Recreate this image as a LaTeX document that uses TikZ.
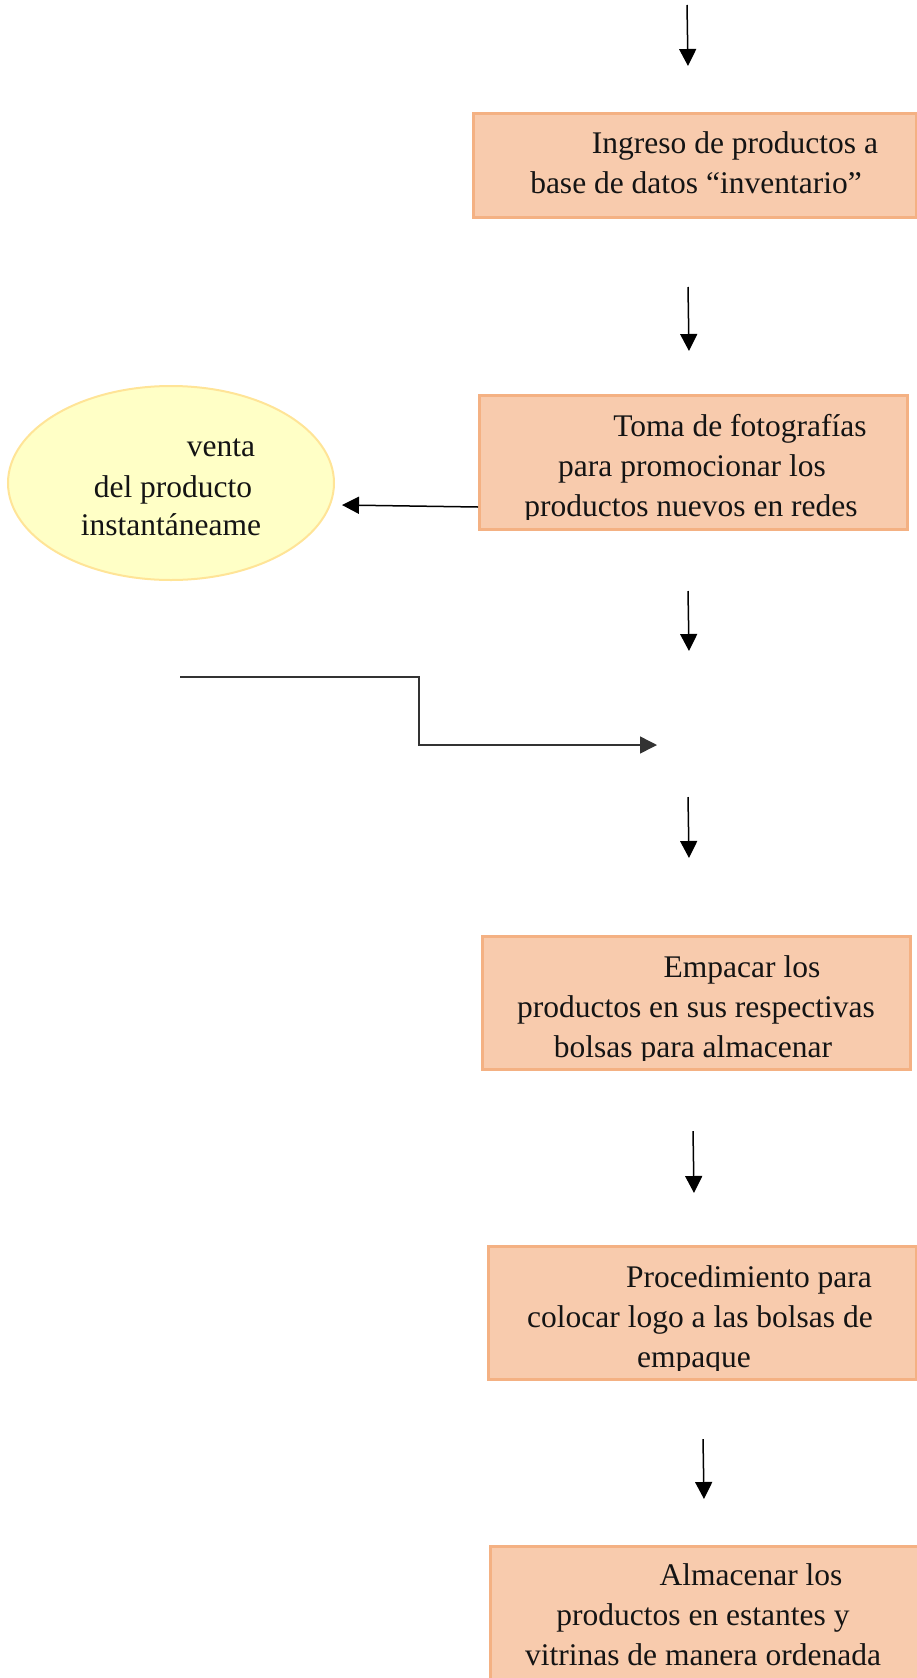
\documentclass[tikz,border=0pt]{standalone}
\usepackage{fontspec}
\setmainfont{Liberation Serif}
\usetikzlibrary{arrows.meta,shapes.geometric}
\definecolor{boxfill}{HTML}{F8CBAD}
\definecolor{boxline}{HTML}{F4B183}
\definecolor{ellfill}{HTML}{FFFFC6}
\definecolor{ellline}{HTML}{FFE497}
\definecolor{txtcol}{HTML}{141414}
\begin{document}
\begin{tikzpicture}[x=1pt,y=-1pt,
  stepbox/.style={draw=boxline,fill=boxfill,line width=2.6pt,rectangle,inner sep=0pt,anchor=north west},
  ellbox/.style={draw=ellline,fill=ellfill,line width=2pt,ellipse,inner sep=0pt},
  txt/.style={anchor=base,inner sep=0pt,text=txtcol,font=\fontsize{31.5}{40}\selectfont},
  arr/.style={line width=1.5pt,-{Triangle[width=17pt,length=17pt]}},
  conn/.style={line width=1.5pt,draw=black!80}]
\useasboundingbox (0,0) rectangle (917,1678);

% boxes
\node[stepbox,minimum width=443pt,minimum height=104pt] (b1) at (472,112) {};
\node[stepbox,minimum width=428pt,minimum height=134pt] (b2) at (478,394) {};
\node[stepbox,minimum width=428pt,minimum height=133pt] (b3) at (481,935) {};
\node[stepbox,minimum width=428pt,minimum height=133pt] (b4) at (487,1245) {};
\node[stepbox,minimum width=428pt,minimum height=140pt] (b5) at (489,1545) {};
\node[ellbox,minimum width=326pt,minimum height=194pt] (e1) at (171,483) {};

% texts
\node[txt] (b1l1) at (735,153) {Ingreso de productos a};
\node[txt] (b1l2) at (696,193) {base de datos “inventario”};

\begin{scope}
\clip (b2.north west) rectangle ([yshift=11pt]b2.south east);
\node[txt] (b2l1) at (740,436) {Toma de fotografías};
\node[txt] (b2l2) at (692,476) {para promocionar los};
\node[txt] (b2l3) at (691,516) {productos nuevos en redes};
\end{scope}

\begin{scope}
\clip (b3.north west) rectangle ([yshift=10pt]b3.south east);
\node[txt] (b3l1) at (742,977) {Empacar los};
\node[txt] (b3l2) at (696,1017) {productos en sus respectivas};
\node[txt] (b3l3) at (693,1057) {bolsas para almacenar};
\end{scope}

\begin{scope}
\clip (b4.north west) rectangle ([yshift=10pt]b4.south east);
\node[txt] (b4l1) at (749,1287) {Procedimiento para};
\node[txt] (b4l2) at (700,1327) {colocar logo a las bolsas de};
\node[txt] (b4l3) at (694,1367) {empaque};
\end{scope}

\node[txt] (b5l1) at (751,1585) {Almacenar los};
\node[txt] (b5l2) at (703,1625) {productos en estantes y};
\node[txt] (b5l3) at (703,1665) {vitrinas de manera ordenada};

\node[txt] (e1l1) at (221,456) {venta};
\node[txt] (e1l2) at (173,497) {del producto};
\node[txt] (e1l3) at (171,535) {instantáneame};

% connector end points
\coordinate (a1s) at (687,5);    \coordinate (a1e) at (688,66);
\coordinate (a2s) at (688,287);  \coordinate (a2e) at (689,351);
\coordinate (a3s) at (688,591);  \coordinate (a3e) at (689,651);
\coordinate (a4s) at (688,797);  \coordinate (a4e) at (689,858);
\coordinate (a5s) at (693,1131); \coordinate (a5e) at (694,1193);
\coordinate (a6s) at (703,1439); \coordinate (a6e) at (704,1499);
\coordinate (sas) at (478,507);  \coordinate (sae) at (342,505);
\coordinate (ls) at (180,677);   \coordinate (lc1) at (419,677);
\coordinate (lc2) at (419,745);  \coordinate (le) at (657,745);

% arrows
\draw[arr] (a1s) -- (a1e);
\draw[arr] (a2s) -- (a2e);
\draw[arr] (a3s) -- (a3e);
\draw[arr] (a4s) -- (a4e);
\draw[arr] (a5s) -- (a5e);
\draw[arr] (a6s) -- (a6e);
\draw[arr] (sas) -- (sae);
\draw[conn,-{Triangle[width=17pt,length=17pt]},line join=miter] (ls) -- (lc1) -- (lc2) -- (le);
\end{tikzpicture}
\end{document}
